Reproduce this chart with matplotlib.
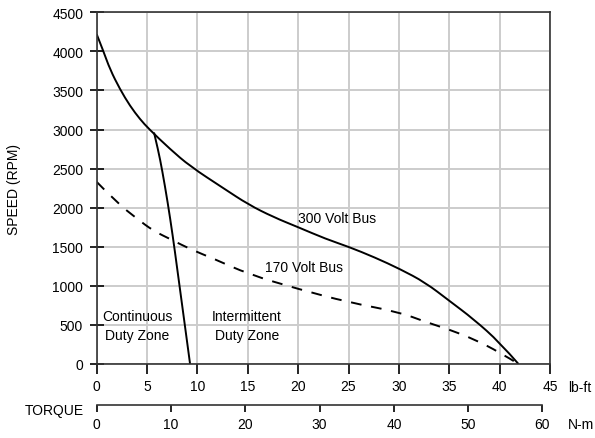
import numpy as np
import matplotlib
matplotlib.use('Agg')
import matplotlib.pyplot as plt
from matplotlib.path import Path
from matplotlib.patches import PathPatch

plt.rcParams['font.family'] = ['Liberation Sans', 'DejaVu Sans']
plt.rcParams['font.size'] = 10

# 300 Volt Bus (solid)
x300 = [0, 0.66, 1.32, 2.31, 3.31, 4.3, 5.2, 7.28, 9.27, 12.57, 15.06, 17.54,
        20, 22.75, 25, 27.6, 30.12, 32.6, 35, 37.4, 40, 41.87]
y300 = [4220, 4005, 3771, 3516, 3302, 3132, 3005, 2750, 2530, 2250, 2040, 1880,
        1750, 1600, 1500, 1364, 1214, 1044, 809, 575, 277, 0]

# 170 Volt Bus (dashed)
x170 = [0, 1.99, 3.97, 5.62, 7.45, 9.27, 11.7, 15.06, 20, 25, 30, 32.6, 35, 37.4, 40, 41.87]
y170 = [2330, 2067, 1862, 1704, 1589, 1470, 1342, 1150, 959, 789, 665, 540, 440, 320, 150, 0]

# continuous / intermittent boundary
xcont = [5.69, 6.1, 6.5, 7.05, 7.55, 8.0, 9.27]
ycont = [2962, 2740, 2480, 2067, 1640, 1214, 0]

LBFT_TO_NM = 1.35582


def smooth_curve(xs, ys, **kw):
    # quadratic bezier through the midpoints, so the read-off points give a smooth line
    pts = list(zip(xs, ys))
    verts = [pts[0]]
    codes = [Path.MOVETO]
    for i in range(1, len(pts) - 1):
        if i == len(pts) - 2:
            end = pts[-1]
        else:
            end = ((pts[i][0] + pts[i + 1][0]) / 2, (pts[i][1] + pts[i + 1][1]) / 2)
        verts += [pts[i], end]
        codes += [Path.CURVE3, Path.CURVE3]
    return PathPatch(Path(verts, codes), fill=False, **kw)


fig = plt.figure(figsize=(5.95, 4.39), dpi=100)
ax = fig.add_axes([0.1625, 0.1686, 0.7619, 0.8011])

ax.add_patch(smooth_curve(x300, y300, edgecolor='black', lw=1.4))
ax.add_patch(smooth_curve(x170, y170, edgecolor='black', lw=1.4, linestyle=(0, (5.5, 5))))
ax.add_patch(smooth_curve(xcont, ycont, edgecolor='black', lw=1.4))

ax.set_xlim(0, 45)
ax.set_ylim(0, 4500)
ax.set_xticks(np.arange(0, 46, 5))
ax.set_yticks(np.arange(0, 4501, 500))
ax.grid(True, color='#cccccc', lw=1.4)
ax.set_axisbelow(True)
for s in ax.spines.values():
    s.set_color('#333333')
    s.set_linewidth(1.2)
ax.tick_params(axis='y', direction='inout', length=9.5, width=1.2, pad=5)
ax.tick_params(axis='x', direction='out', length=7, width=1.2, pad=3.5)
ax.set_ylabel('SPEED (RPM)')
ax.yaxis.set_label_coords(-0.168, 0.5)

ax.text(20, 1865, '300 Volt Bus', ha='left', va='center')
ax.text(16.7, 1244, '170 Volt Bus', ha='left', va='center')
ax.text(4.05, 490, 'Continuous\nDuty Zone', ha='center', va='center', linespacing=1.4)
ax.text(14.9, 490, 'Intermittent\nDuty Zone', ha='center', va='center', linespacing=1.4)

ax.text(1.040, -0.045, 'lb-ft', transform=ax.transAxes, ha='left', va='top')

# second torque scale in N-m
sec = ax.secondary_xaxis(-0.118, functions=(lambda v: v * LBFT_TO_NM, lambda v: v / LBFT_TO_NM))
sec.set_xticks(np.arange(0, 61, 10))
sec.spines['bottom'].set_bounds(0, 60)
sec.spines['bottom'].set_linewidth(1.2)
sec.spines['bottom'].set_color('#333333')
sec.tick_params(direction='out', length=5, width=1.2, pad=3)
ax.text(1.040, -0.152, 'N-m', transform=ax.transAxes, ha='left', va='top')
ax.text(-0.028, -0.13, 'TORQUE', transform=ax.transAxes, ha='right', va='center')

fig.savefig('out.png', dpi=100)
